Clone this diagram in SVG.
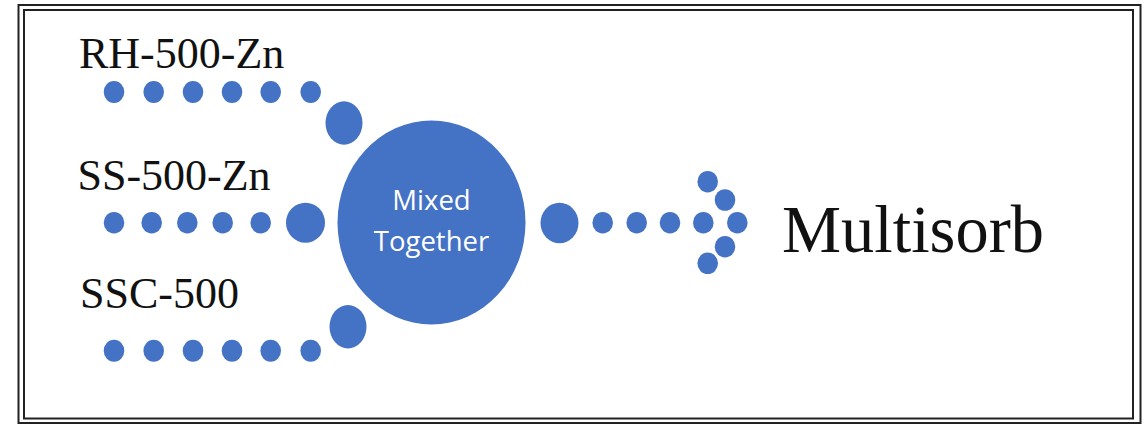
<svg xmlns="http://www.w3.org/2000/svg" width="1145" height="427" viewBox="0 0 1145 427">
<style>
.lbl{font-family:"Liberation Serif","Times New Roman",serif;fill:#111;}
.dot{fill:#4472C4;}
.frame{fill:none;stroke:#222;stroke-width:2;}
.inner{font-family:"Open Sans","Noto Sans",sans-serif;fill:#fff;font-size:27.5px;text-anchor:middle;}
</style>
<rect width="1145" height="427" fill="#fff"/>
<rect class="frame" x="18.5" y="5" width="1122" height="418"/>
<rect class="frame" x="24" y="10" width="1109" height="408.5" stroke-width="1.5"/>
<g id="rh500zn">
<text class="lbl" x="79" y="68" font-size="44">RH-500-Zn</text>
</g>
<g id="ss500zn">
<text class="lbl" x="77.5" y="190" font-size="44">SS-500-Zn</text>
</g>
<g id="ssc500">
<text class="lbl" x="80" y="308" font-size="44">SSC-500</text>
</g>
<g id="mixed">
<ellipse class="dot" cx="431.5" cy="222.5" rx="94" ry="102"/>
<text class="inner" x="431.5" y="210">Mixed</text>
<text class="inner" x="431.5" y="251">Together</text>
</g>
<g id="multisorb">
<text class="lbl" x="782" y="252" font-size="68" textLength="262" lengthAdjust="spacingAndGlyphs">Multisorb</text>
</g>
<g id="connectors">
<g id="row1">
<ellipse class="dot" cx="114" cy="92" rx="10.3" ry="11"/>
<ellipse class="dot" cx="153.7" cy="92" rx="10.3" ry="11"/>
<ellipse class="dot" cx="193" cy="92" rx="10.3" ry="11"/>
<ellipse class="dot" cx="232" cy="92" rx="10.3" ry="11"/>
<ellipse class="dot" cx="270.7" cy="92" rx="10.3" ry="11"/>
<ellipse class="dot" cx="310.7" cy="92" rx="10.3" ry="11"/>
<ellipse class="dot" cx="344" cy="123" rx="18.5" ry="21.7"/>
</g>
<g id="row2">
<ellipse class="dot" cx="114" cy="222.7" rx="10.3" ry="10.8"/>
<ellipse class="dot" cx="151.7" cy="222.7" rx="10.3" ry="10.8"/>
<ellipse class="dot" cx="187.3" cy="222.7" rx="10.3" ry="10.8"/>
<ellipse class="dot" cx="222.7" cy="222.7" rx="10.3" ry="10.8"/>
<ellipse class="dot" cx="260.7" cy="222.7" rx="10.3" ry="10.8"/>
<ellipse class="dot" cx="305.5" cy="222.7" rx="19.5" ry="20"/>
</g>
<g id="row3">
<ellipse class="dot" cx="114" cy="350.7" rx="10.3" ry="11"/>
<ellipse class="dot" cx="153.7" cy="350.7" rx="10.3" ry="11"/>
<ellipse class="dot" cx="193" cy="350.7" rx="10.3" ry="11"/>
<ellipse class="dot" cx="232" cy="350.7" rx="10.3" ry="11"/>
<ellipse class="dot" cx="270.7" cy="350.7" rx="10.3" ry="11"/>
<ellipse class="dot" cx="310.7" cy="350.7" rx="10.3" ry="11"/>
<ellipse class="dot" cx="348" cy="326.7" rx="18.5" ry="21.7"/>
</g>
<g id="out">
<ellipse class="dot" cx="559.5" cy="223" rx="19" ry="20.3"/>
<ellipse class="dot" cx="602.7" cy="222.7" rx="10.3" ry="10.8"/>
<ellipse class="dot" cx="636.7" cy="222.7" rx="10.3" ry="10.8"/>
<ellipse class="dot" cx="670" cy="222.7" rx="10.3" ry="10.8"/>
<ellipse class="dot" cx="703.3" cy="222.7" rx="10.3" ry="10.8"/>
<ellipse class="dot" cx="737.3" cy="222.7" rx="10.3" ry="10.8"/>
<ellipse class="dot" cx="707.7" cy="181.7" rx="10.3" ry="10.8"/>
<ellipse class="dot" cx="725" cy="200" rx="10.3" ry="10.8"/>
<ellipse class="dot" cx="725" cy="246.7" rx="10.3" ry="10.8"/>
<ellipse class="dot" cx="707.7" cy="263.3" rx="10.3" ry="10.8"/>
</g>
</g>
</svg>
